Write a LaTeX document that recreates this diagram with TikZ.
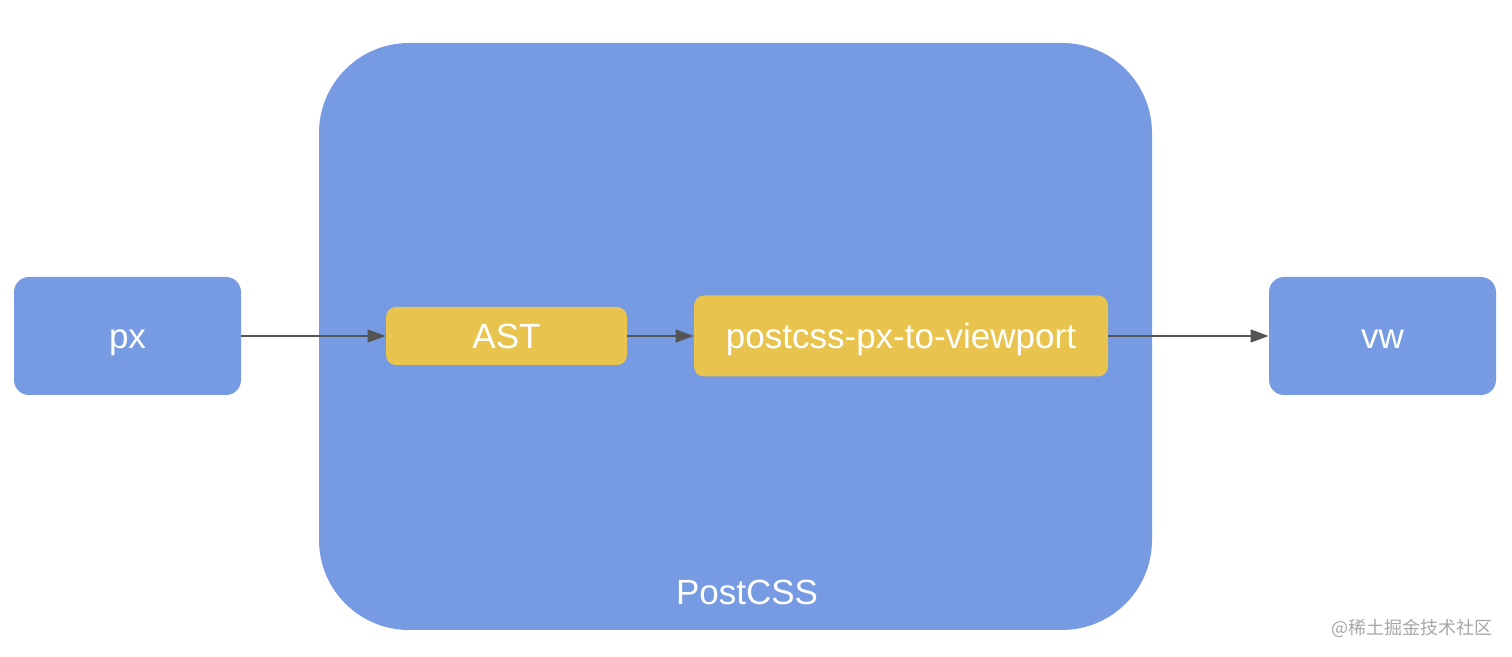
\documentclass[tikz,border=0pt]{standalone}
\usepackage{fontspec}
\setmainfont{Liberation Sans}
\newfontfamily\cjk{Noto Sans CJK SC}
\usetikzlibrary{arrows.meta}
\definecolor{boxblue}{RGB}{118,155,226}
\definecolor{boxyellow}{RGB}{232,196,78}
\definecolor{arrowgray}{RGB}{85,85,85}
\tikzset{
  boxtext/.style={text=white, font=\fontsize{17.5}{20}\selectfont, text height=12.5pt, text depth=0pt},
  bluebox/.style={draw=none, fill=boxblue, rounded corners=7.5pt, boxtext, inner sep=0pt},
  yellowbox/.style={draw=none, fill=boxyellow, rounded corners=5pt, boxtext, inner sep=0pt},
  conn/.style={draw=arrowgray, line width=0.75pt, -{Triangle[length=9pt,width=6.5pt]}}
}
\begin{document}
\begin{tikzpicture}[x=0.5pt,y=-0.5pt]
\useasboundingbox (0,0) rectangle (1512,657);
\node[bluebox, rounded corners=45pt, minimum width=416.5pt, minimum height=293.5pt] (postcss) at (735.5,336.5) {};
\node[boxtext, inner sep=0pt] (postcsslabel) at (747,592) {PostCSS};
\node[bluebox, minimum width=113.5pt, minimum height=59pt] (px) at (127.5,336) {px};
\node[bluebox, minimum width=113.5pt, minimum height=59pt] (vw) at (1382.5,336) {vw};
\node[yellowbox, minimum width=120.5pt, minimum height=29pt] (ast) at (506.5,336) {AST};
\node[yellowbox, minimum width=207pt, minimum height=40.5pt] (plugin) at (901,336) {postcss-px-to-viewport};
\draw[conn] (px.east) -- (ast.west);
\draw[conn] (ast.east) -- (plugin.west);
\draw[conn] (plugin.east) -- (vw.west);
\node[text=black!35, font=\cjk\fontsize{9}{11}\selectfont, anchor=east] (watermark) at (1500,628) {@稀土掘金技术社区};
\end{tikzpicture}
\end{document}
